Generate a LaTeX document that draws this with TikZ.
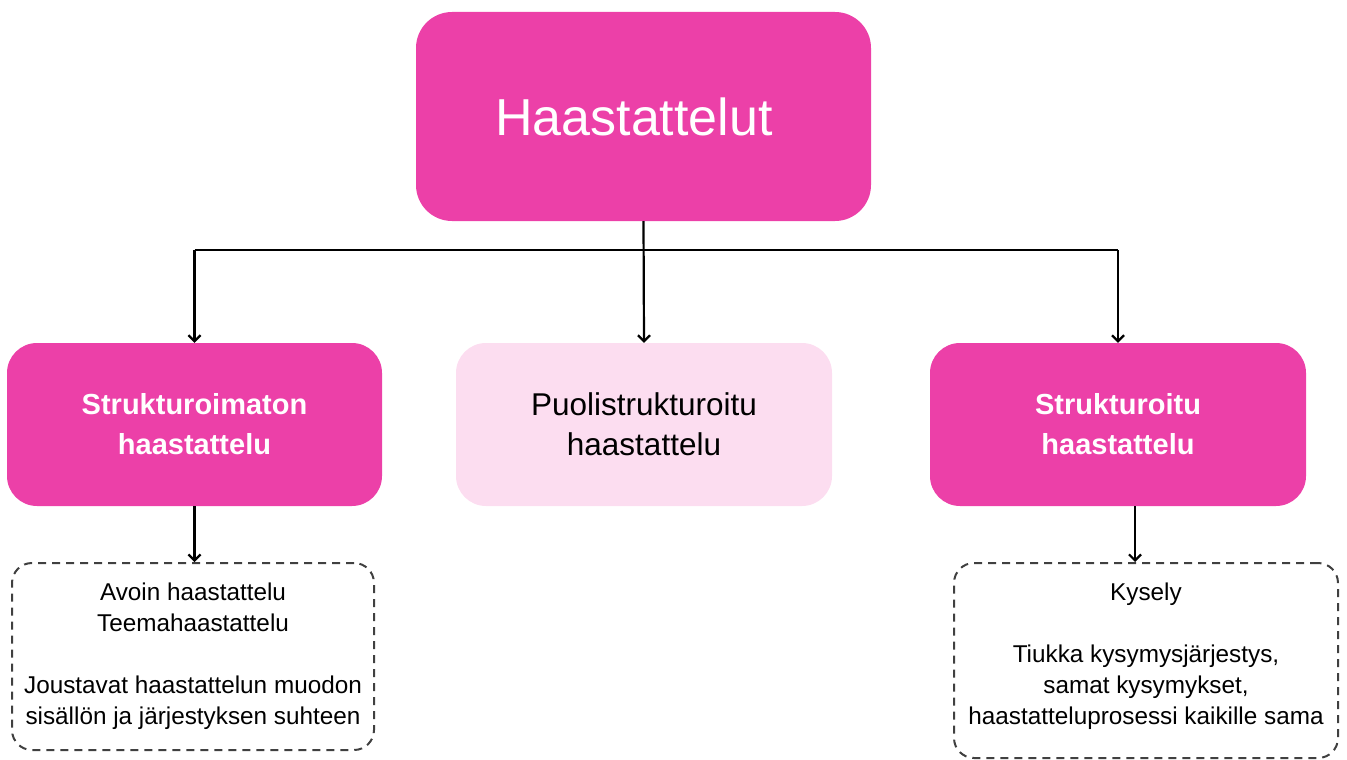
\documentclass[tikz,border=0pt]{standalone}
\usepackage{fontspec}
\setmainfont{Liberation Sans}
\usetikzlibrary{arrows.meta}
\definecolor{hotpink}{RGB}{236,64,168}
\definecolor{palepink}{RGB}{252,221,240}
\definecolor{dashgray}{RGB}{64,64,64}
\tikzset{
  topbox/.style={fill=hotpink, draw=none, rounded corners=36pt, minimum width=455pt, minimum height=209pt, inner sep=0pt},
  toptext/.style={text=white, font=\fontsize{52}{60}\selectfont, inner sep=0pt},
  catbox/.style={draw=none, rounded corners=30pt, minimum width=375pt, minimum height=163pt, inner sep=0pt, align=center},
  darkcat/.style={catbox, fill=hotpink, text=white, font=\fontsize{29}{40}\selectfont\bfseries},
  lightcat/.style={catbox, fill=palepink, text=black, font=\fontsize{31.5}{40}\selectfont},
  notebox/.style={draw=dashgray, dash pattern=on 8pt off 6pt, line width=2pt, rounded corners=20pt, inner sep=0pt},
  notetext/.style={inner sep=0pt, align=center, text=black, font=\fontsize{24.3}{31}\selectfont},
  ln/.style={draw=black, line width=2.2pt},
  arr/.style={ln, -{Straight Barb[length=6pt,width=12pt,line width=2.2pt]}}
}
\begin{document}
\begin{tikzpicture}[x=1pt,y=-1pt]
\useasboundingbox (0,0) rectangle (1347,760);
\node[topbox] (top) at (643.5,116.5) {};
\node[toptext] (toplabel) at (634,116.5) {Haastattelut};
\node[darkcat] (lbox) at (194.5,424.5) {Strukturoimaton\\haastattelu};
\node[lightcat, minimum width=376pt] (mbox) at (644,424.5) {Puolistrukturoitu\\haastattelu};
\node[darkcat, minimum width=376pt] (rbox) at (1118,424.5) {Strukturoitu\\haastattelu};
\node[notebox, minimum width=362pt, minimum height=187pt] (ldash) at (193,656.5) {};
\node[notetext] (ldashtext) at (193,656)
  {Avoin haastattelu\\Teemahaastattelu\\[31pt]Joustavat haastattelun muodon\\sisällön ja järjestyksen suhteen};
\node[notebox, minimum width=384pt, minimum height=195pt] (rdash) at (1146,660.5) {};
\node[notetext] (rdashtext) at (1146,656)
  {Kysely\\[31pt]Tiukka kysymysjärjestys,\\samat kysymykset,\\haastatteluprosessi kaikille sama};
\coordinate (hub) at (643.5,250);
\draw[ln] (lbox.north |- hub) -- (rbox.north |- hub);
\draw[arr] (top.south) -- (mbox.north);
\draw[arr] (lbox.north |- hub) -- (lbox.north);
\draw[arr] (rbox.north |- hub) -- (rbox.north);
\draw[arr] (lbox.south) -- (lbox.south |- ldash.north);
\draw[arr] ([xshift=17pt]rbox.south) -- ([xshift=17pt]rbox.south |- rdash.north);
\end{tikzpicture}
\end{document}
